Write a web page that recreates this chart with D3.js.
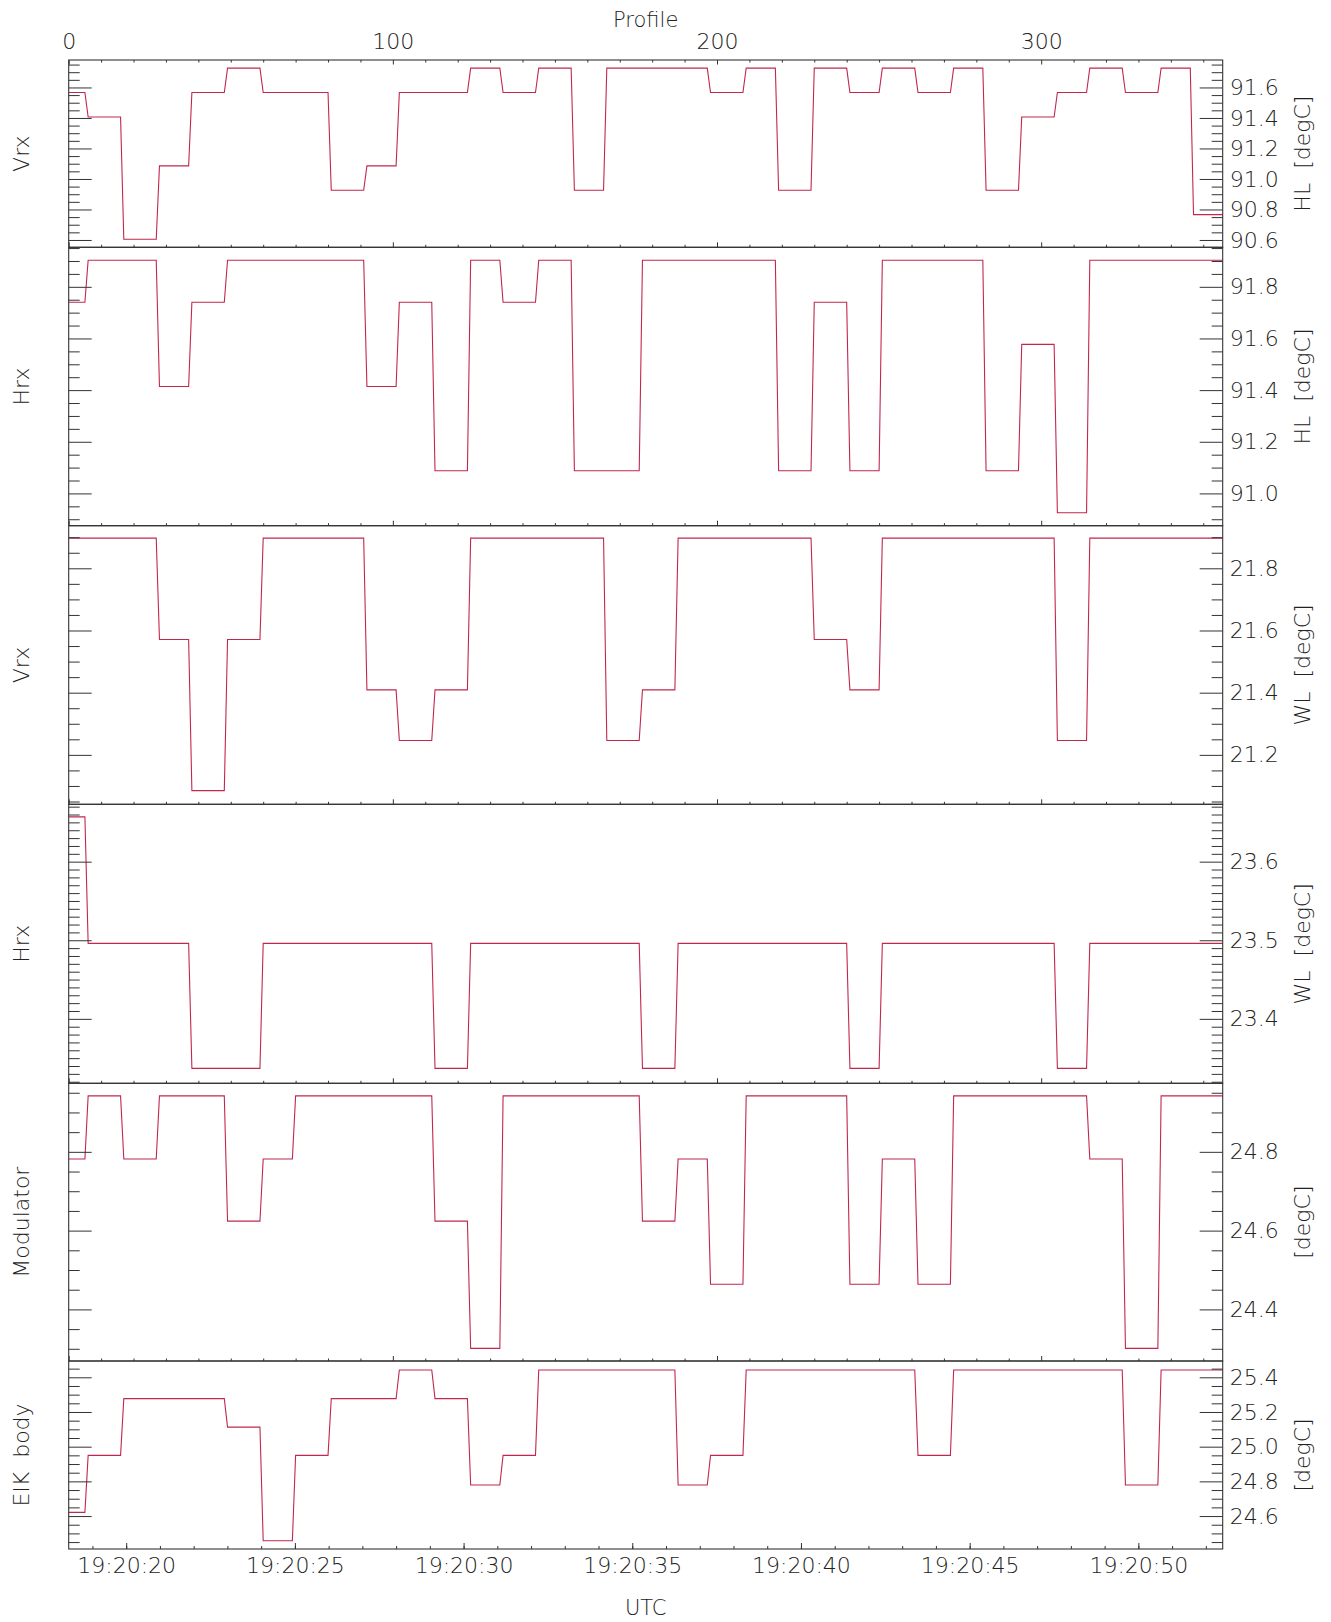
<!DOCTYPE html>
<html>
<head>
<meta charset="utf-8">
<script src="https://cdn.jsdelivr.net/npm/d3@7/dist/d3.min.js"></script>
<style>
  html, body { margin: 0; padding: 0; background: #fff; }
  svg { display: block; }
  text { font-family: "DejaVu Sans", sans-serif; font-weight: 200; fill: #222; }
</style>
</head>
<body>
<svg id="chart" width="1331" height="1622"></svg>
<script>
// ---- data ----
// first profile index of each one-second reading
const segmentStarts = [0, 6, 17, 28, 38, 49, 60, 70, 81, 92, 102, 113, 124, 134, 145, 156, 166,
  177, 188, 198, 209, 219, 230, 241, 251, 262, 273, 283, 294, 305, 315, 326, 337, 347];
const lastProfile = 356;

const vrxHL = [91.567, 91.406, 90.605, 91.086, 91.567, 91.727, 91.567, 91.567, 90.926, 91.086,
  91.567, 91.567, 91.727, 91.567, 91.727, 90.926, 91.727, 91.727, 91.727, 91.567, 91.727, 90.926,
  91.727, 91.567, 91.727, 91.567, 91.727, 90.926, 91.406, 91.567, 91.727, 91.567, 91.727, 90.766];

const hrxHL = [91.740, 91.903, 91.903, 91.414, 91.740, 91.903, 91.903, 91.903, 91.903, 91.414,
  91.740, 91.088, 91.903, 91.740, 91.903, 91.088, 91.088, 91.903, 91.903, 91.903, 91.903, 91.088,
  91.740, 91.088, 91.903, 91.903, 91.903, 91.088, 91.577, 90.925, 91.903, 91.903, 91.903, 91.903];

const vrxWL = [21.897, 21.897, 21.897, 21.571, 21.085, 21.571, 21.897, 21.897, 21.897, 21.409,
  21.246, 21.409, 21.897, 21.897, 21.897, 21.897, 21.246, 21.409, 21.897, 21.897, 21.897, 21.897,
  21.571, 21.409, 21.897, 21.897, 21.897, 21.897, 21.897, 21.246, 21.897, 21.897, 21.897, 21.897];

const hrxWL = [23.657, 23.496, 23.496, 23.496, 23.337, 23.337, 23.496, 23.496, 23.496, 23.496,
  23.496, 23.337, 23.496, 23.496, 23.496, 23.496, 23.496, 23.337, 23.496, 23.496, 23.496, 23.496,
  23.496, 23.337, 23.496, 23.496, 23.496, 23.496, 23.496, 23.337, 23.496, 23.496, 23.496, 23.496];

const modulator = [24.782, 24.942, 24.782, 24.942, 24.942, 24.624, 24.782, 24.942, 24.942, 24.942,
  24.942, 24.624, 24.301, 24.942, 24.942, 24.942, 24.942, 24.624, 24.782, 24.464, 24.942, 24.942,
  24.942, 24.464, 24.782, 24.464, 24.942, 24.942, 24.942, 24.942, 24.782, 24.301, 24.942, 24.942];

const eikBody = [24.621, 24.950, 25.277, 25.277, 25.277, 25.113, 24.458, 24.950, 25.277, 25.277,
  25.442, 25.277, 24.779, 24.950, 25.442, 25.442, 25.442, 25.442, 24.779, 24.950, 25.442, 25.442,
  25.442, 25.442, 25.442, 24.950, 25.442, 25.442, 25.442, 25.442, 25.442, 24.779, 25.442, 25.442];

const leftLabels = ["Vrx", "Hrx", "Vrx", "Hrx", "Modulator", "EIK  body"];
const rightLabels = ["HL  [degC]", "HL  [degC]", "WL  [degC]", "WL  [degC]", "[degC]", "[degC]"];
const seriesList = [vrxHL, hrxHL, vrxWL, hrxWL, modulator, eikBody];
const yDomains = [[90.552, 91.780], [90.875, 91.953], [21.041, 21.937], [23.318, 23.673], [24.269, 24.974], [24.410, 25.494]];
const majorSteps = [0.2, 0.2, 0.2, 0.1, 0.2, 0.2];
const minorSteps = [0.05, 0.05, 0.05, 0.01, 0.05, 0.05];
const profileTicks = [0, 100, 200, 300];
const timeStart = "2000-01-01T19:20:18.296Z";
const timeEnd = "2000-01-01T19:20:52.500Z";

// ---- layout ----
const svg = d3.select("#chart");
const left = 68.7, right = 1222.7;
const edges = [60, 247.3, 525.7, 804.3, 1083.3, 1361, 1549];
const lineColor = "#c0284e";
const axisColor = "#333";

const x = d3.scaleLinear().domain([0, lastProfile]).range([left, right]);
const t = d3.scaleUtc().domain([new Date(timeStart), new Date(timeEnd)]).range([left, right]);

function stepsBetween(lo, hi, step) {
  const out = [];
  const s = Math.ceil(lo / step - 1e-9);
  const e = Math.floor(hi / step + 1e-9);
  for (let i = s; i <= e; i++) out.push(+(i * step).toFixed(4));
  return out;
}

function styleAxis(g) {
  g.select(".domain").remove();
  g.selectAll(".tick line").attr("stroke", axisColor).attr("stroke-width", 1);
  g.selectAll(".tick text").attr("fill", "#222").style("font-size", "22px")
    .style("font-family", '"DejaVu Sans", sans-serif').style("font-weight", 200);
}

seriesList.forEach((vals, i) => {
  const top = edges[i], bot = edges[i + 1];
  const y = d3.scaleLinear().domain(yDomains[i]).range([bot, top]);
  const g = svg.append("g");

  // line from one-second readings held over their profiles
  const pts = [];
  vals.forEach((v, k) => {
    const s = segmentStarts[k];
    const e = k + 1 < segmentStarts.length ? segmentStarts[k + 1] - 1 : lastProfile;
    pts.push([s, v]);
    pts.push([e, v]);
  });
  g.append("path")
    .datum(pts)
    .attr("fill", "none")
    .attr("stroke", lineColor)
    .attr("stroke-width", 1.1)
    .attr("d", d3.line().x(d => x(d[0])).y(d => y(d[1])));

  const majors = stepsBetween(yDomains[i][0], yDomains[i][1], majorSteps[i]);
  const minors = stepsBetween(yDomains[i][0], yDomains[i][1], minorSteps[i])
    .filter(v => !majors.some(m => Math.abs(m - v) < 1e-6));
  const dec = majorSteps[i] < 0.15 ? 1 : 1;

  // right axis
  g.append("g").attr("transform", `translate(${right},0)`)
    .call(d3.axisRight(y).tickValues(majors).tickSize(-23).tickPadding(7).tickFormat(d3.format(".1f")))
    .call(styleAxis);
  g.append("g").attr("transform", `translate(${right},0)`)
    .call(d3.axisRight(y).tickValues(minors).tickSize(-11).tickFormat(""))
    .call(styleAxis);
  // left axis (mirror, no labels)
  g.append("g").attr("transform", `translate(${left},0)`)
    .call(d3.axisLeft(y).tickValues(majors).tickSize(-23).tickFormat(""))
    .call(styleAxis);
  g.append("g").attr("transform", `translate(${left},0)`)
    .call(d3.axisLeft(y).tickValues(minors).tickSize(-11).tickFormat(""))
    .call(styleAxis);

  // bottom profile ticks (not on bottom panel, which carries time)
  if (i < seriesList.length - 1) {
    const pMinor = d3.range(10, lastProfile, 10).filter(p => p % 100 !== 0);
    g.append("g").attr("transform", `translate(0,${bot})`)
      .call(d3.axisBottom(x).tickValues(pMinor).tickSize(-2.5).tickFormat(""))
      .call(styleAxis);
    g.append("g").attr("transform", `translate(0,${bot})`)
      .call(d3.axisBottom(x).tickValues(profileTicks).tickSize(-5).tickFormat(""))
      .call(styleAxis);
  }

  // frame
  g.append("rect").attr("x", left).attr("y", top)
    .attr("width", right - left).attr("height", bot - top)
    .attr("fill", "none").attr("stroke", axisColor).attr("stroke-width", 1.1);

  const cy = (top + bot) / 2;
  g.append("text")
    .attr("transform", `translate(29,${cy}) rotate(-90)`)
    .attr("text-anchor", "middle")
    .style("font-size", "22px").style("white-space", "pre")
    .text(leftLabels[i]);
  g.append("text")
    .attr("transform", `translate(1310,${cy}) rotate(-90)`)
    .attr("text-anchor", "middle")
    .style("font-size", "22px").style("white-space", "pre")
    .text(rightLabels[i]);
});

// top profile axis
svg.append("g").attr("transform", `translate(0,${edges[0]})`)
  .call(d3.axisTop(x).tickValues(d3.range(10, lastProfile, 10).filter(p => p % 100 !== 0)).tickSize(-2.5).tickFormat(""))
  .call(styleAxis);
svg.append("g").attr("transform", `translate(0,${edges[0]})`)
  .call(d3.axisTop(x).tickValues(profileTicks).tickSize(-4.5).tickPadding(11).tickFormat(d3.format("d")))
  .call(styleAxis);
svg.append("text").attr("x", (left + right) / 2).attr("y", 27)
  .attr("text-anchor", "middle").style("font-size", "21px").text("Profile");

// bottom time axis
const bottomY = edges[edges.length - 1];
svg.append("g").attr("transform", `translate(0,${bottomY})`)
  .call(d3.axisBottom(t).ticks(d3.utcSecond.every(1)).tickSize(-3).tickFormat(""))
  .call(styleAxis);
svg.append("g").attr("transform", `translate(0,${bottomY})`)
  .call(d3.axisBottom(t).ticks(d3.utcSecond.every(5)).tickSize(-6).tickPadding(8).tickFormat(d3.utcFormat("%H:%M:%S")))
  .call(styleAxis);
svg.append("text").attr("x", (left + right) / 2).attr("y", 1615)
  .attr("text-anchor", "middle").style("font-size", "21px").text("UTC");
</script>
</body>
</html>
